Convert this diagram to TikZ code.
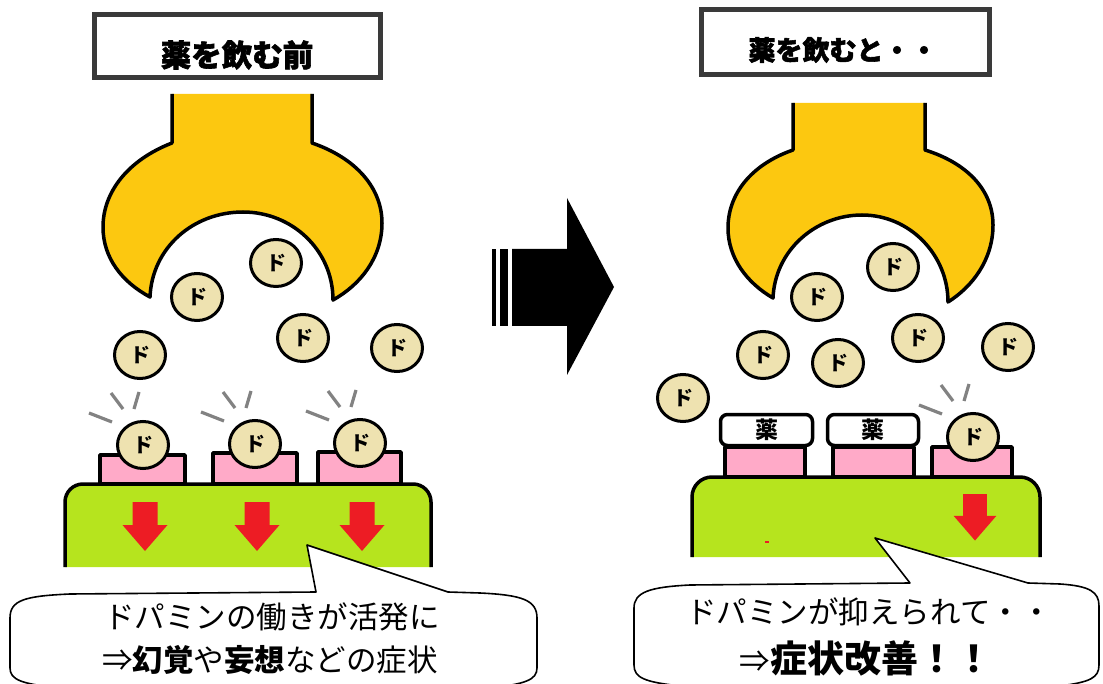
\documentclass[tikz,border=0pt]{standalone}
\usepackage{fontspec}
\newfontfamily\cjk{Noto Sans CJK JP}
\newfontfamily\cjkheavy[BoldFeatures={FakeBold=2}]{Noto Sans CJK JP}
\usetikzlibrary{shapes.geometric}

\definecolor{recyellow}{RGB}{252,200,16}
\definecolor{dopa}{RGB}{238,226,176}
\definecolor{sitepink}{RGB}{255,170,200}
\definecolor{cellgreen}{RGB}{182,228,30}
\definecolor{sigred}{RGB}{237,28,36}
\definecolor{framegray}{RGB}{58,58,58}
\definecolor{sparkgray}{RGB}{130,130,130}

\tikzset{
  outline/.style={draw=black, line width=3.5pt, line join=round},
  titleframe/.style={draw=framegray, line width=5pt, fill=white, inner sep=0pt},
  titletext/.style={font=\cjkheavy\bfseries\fontsize{#1}{#1}\selectfont, inner sep=0pt},
  ball/.style={ellipse, draw=black, line width=3pt, fill=dopa, minimum width=51pt,
    minimum height=47pt, inner sep=0pt, font=\cjk\bfseries\fontsize{20}{20}\selectfont},
  site/.style={outline, fill=sitepink},
  drugcap/.style={draw=black, line width=3.5pt, fill=white, rounded corners=7pt,
    inner sep=0pt, font=\cjk\bfseries\fontsize{23}{23}\selectfont},
  spark/.style={draw=sparkgray, line width=3.2pt},
  callout/.style={draw=black, line width=1.6pt, fill=white, line join=round},
  bubbletext/.style={font=\cjk\fontsize{30.5}{30.5}\selectfont, inner sep=0pt},
  signalarrow/.pic={\fill[sigred] (-12.5,0) -- (12.5,0) -- (12.5,23) -- (22.5,23)
    -- (0,49) -- (-22.5,23) -- (-12.5,23) -- cycle;},
  sparks/.pic={\draw[spark] (-54,-32) -- (-31,-23) (-32,-52) -- (-20,-36)
    (-4,-53) -- (-9,-36);}
}

\begin{document}
\begin{tikzpicture}[x=1pt, y=-1pt]
\useasboundingbox (0,0) rectangle (1103,684);
\clip (0,0) rectangle (1103,684);

% ---------- titles ----------
\node[titleframe, minimum width=286pt, minimum height=63pt] (titleL) at (237.5,46) {};
\node[titletext=30.5] (titleLtext) at (237,55) {薬を飲む前};
\node[titleframe, minimum width=288pt, minimum height=65pt] (titleR) at (845.5,42) {};
\node[titletext=27] (titleRtext) at (843,50) {薬を飲むと・・};

% ---------- receptors (yellow) ----------
\draw[outline, fill=recyellow] (172,94) -- (172,143)
  .. controls (128,160) and (103,192) .. (103,227)
  .. controls (103,258) and (122,282) .. (150,297)
  .. controls (152,248) and (193,212) .. (243,212)
  .. controls (292,212) and (333,250) .. (333,300)
  .. controls (360,285) and (382,258) .. (382,223)
  .. controls (382,188) and (356,158) .. (312,143) -- (312,94);

\draw[outline, fill=recyellow] (793,103) -- (793,150)
  .. controls (750,165) and (728,195) .. (728,228)
  .. controls (728,258) and (747,283) .. (773,298)
  .. controls (775,250) and (816,215) .. (862,215)
  .. controls (910,215) and (948,255) .. (948,302)
  .. controls (972,287) and (993,260) .. (993,225)
  .. controls (993,190) and (967,163) .. (925,150) -- (925,103);

% ---------- central arrow ----------
\fill (492,249) rectangle (496,326);
\fill (500,249) rectangle (508,326);
\fill (512,249) -- (567,249) -- (567,198) -- (614,287) -- (567,375) -- (567,326) -- (512,326) -- cycle;

% ---------- left: receptor sites and cell ----------
\draw[site] (100,455) rectangle (185,484);
\draw[site] (213,453) rectangle (297,484);
\draw[site] (318,452) rectangle (401,484);
\draw[outline, fill=cellgreen, rounded corners=18pt] (65,567) -- (65,484) -- (431,484) -- (431,567);
\pic at (145,502) {signalarrow};
\pic at (257,502) {signalarrow};
\pic at (362,502) {signalarrow};

% ---------- right: receptor sites and cell ----------
\draw[site] (725,447) rectangle (805,477);
\draw[site] (833,447) rectangle (914,477);
\draw[site] (932,447) rectangle (1012,477);
\node[drugcap, minimum width=92pt, minimum height=31pt] (drug1) at (766.5,430) {薬};
\node[drugcap, minimum width=91pt, minimum height=31pt] (drug2) at (873,430) {薬};
\draw[outline, fill=cellgreen, rounded corners=20pt] (692,557) -- (692,477) -- (1040,477) -- (1040,557);
\pic[scale=0.95] at (975,494) {signalarrow};
\draw[sigred, line width=1.5pt] (765,542) -- (769,542);

% ---------- dopamine, left ----------
\node[ball] (dl1) at (276,263) {ド};
\node[ball] (dl2) at (197,297) {ド};
\node[ball] (dl3) at (140,355) {ド};
\node[ball] (dl4) at (303,338) {ド};
\node[ball] (dl5) at (397,348) {ド};
\node[ball] (bl1) at (143,445) {ド};
\node[ball] (bl2) at (255,444) {ド};
\node[ball] (bl3) at (360,443) {ド};
\pic at (143,445) {sparks};
\pic at (255,444) {sparks};
\pic at (360,443) {sparks};

% ---------- dopamine, right ----------
\node[ball] (dr1) at (893,267) {ド};
\node[ball] (dr2) at (817,297) {ド};
\node[ball] (dr3) at (763,355) {ド};
\node[ball] (dr4) at (838,363) {ド};
\node[ball] (dr5) at (918,338) {ド};
\node[ball] (dr6) at (1008,347) {ド};
\node[ball] (dr7) at (683,398) {ド};
\node[ball] (br1) at (973,437) {ド};
\pic at (973,437) {sparks};

% ---------- speech bubbles ----------
\draw[callout] (316,592) -- (307,545) -- (448,592) -- (480,593)
  .. controls (522,595) and (537,600) .. (537,618) -- (537,668)
  .. controls (537,680) and (525,684) .. (490,688) -- (60,688)
  .. controls (22,684) and (10,680) .. (10,668) -- (10,618)
  .. controls (10,600) and (25,596) .. (70,594) -- cycle;
\node[bubbletext] (noteL1) at (272,617) {ドパミンの働きが活発に};
\node[bubbletext] (noteL2) at (270,660) {⇒{\bfseries 幻覚}や{\bfseries 妄想}などの症状};

\draw[callout] (910,583) -- (875,538) -- (1028,583) -- (1060,584)
  .. controls (1090,586) and (1099,592) .. (1099,606) -- (1099,665)
  .. controls (1099,678) and (1090,682) .. (1060,686) -- (680,686)
  .. controls (645,682) and (634,678) .. (634,665) -- (634,608)
  .. controls (634,592) and (650,587) .. (690,585) -- cycle;
\node[bubbletext] (noteR1) at (869,612) {ドパミンが抑えられて・・};
\node[bubbletext] (noteR2) at (866,658) {⇒{\bfseries\fontsize{37}{37}\selectfont 症状改善！！}};
\end{tikzpicture}
\end{document}
